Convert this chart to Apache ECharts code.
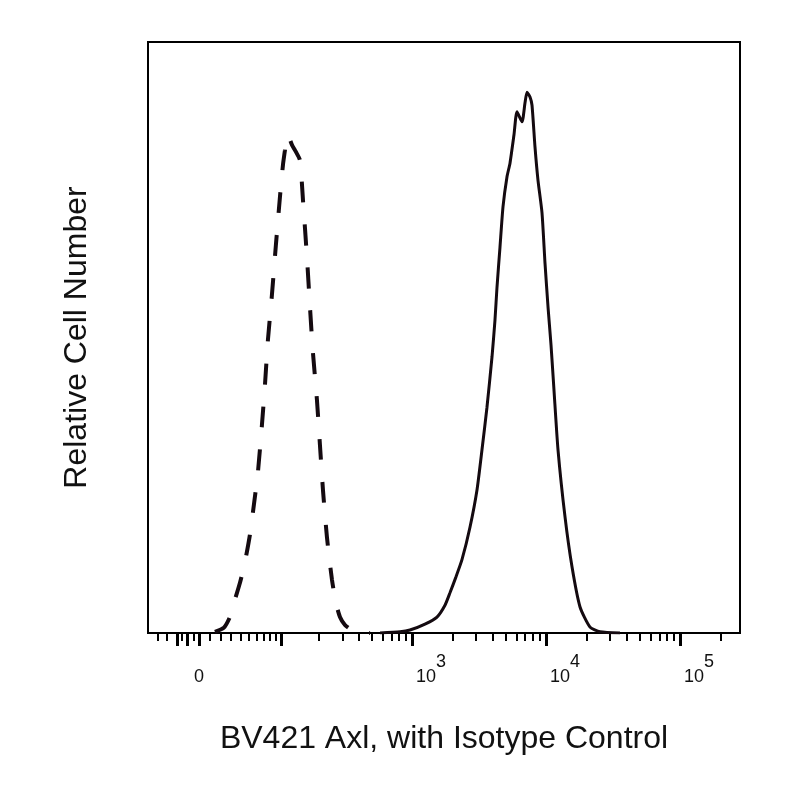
<!DOCTYPE html>
<html>
<head>
<meta charset="utf-8">
<script src="https://cdn.jsdelivr.net/npm/echarts@6.0.0/dist/echarts.min.js"></script>
<style>
  html, body { margin: 0; padding: 0; background: #fff; }
  #chart { width: 800px; height: 800px; }
</style>
</head>
<body>
<div id="chart"></div>
<script>
// BV421 intensity (x) vs relative cell number (y)
var solidX = [577, 814, 966, 1250, 1537, 1763, 1921, 2130, 2361, 2709,
    3056, 3330, 3628, 3954, 4164, 4309, 4537, 4777, 5117, 5387,
    5770, 6076, 6622, 6972, 7216, 7598, 7863, 8279, 8715, 9336,
    9829, 10350, 10900, 11470, 12290, 13870, 15630, 17940, 21300, 25290, 35660];
var solidY = [0, 0.2, 0.5, 1.5, 2.7, 4.7, 6.8, 9.5, 12.4, 17.9,
    24.2, 31.0, 38.2, 46.7, 53.0, 58.5, 65.3, 72.1, 77.2, 79.5,
    84.3, 88.2, 86.5, 89.7, 91.5, 90.7, 89.3, 82.2, 76.6, 71.1,
    62.6, 55.2, 48.7, 41.1, 31.0, 19.6, 11.2, 4.4, 1.0, 0.2, 0];

// isotype control
var isoX = [14.3, 22.8, 28.7, 32.9, 39.4, 45.1, 51.1, 56.2, 61.6, 67.3,
    71.8, 76.4, 82.9, 89.8, 97.2, 103.0, 107.0, 111.1, 115.4, 122.1,
    131.5, 141.5, 149.5, 160.7, 169.6, 179.0, 192.2, 202.7, 213.8, 229.4,
    250.5, 268.7, 288.1, 314.4, 343.0, 394.1, 485.0];
var isoY = [0.2, 0.9, 2.7, 5.1, 8.5, 12.0, 16.6, 21.7, 27.2, 35.2,
    42.0, 49.6, 57.2, 65.7, 73.8, 79.2, 81.7, 84.3, 83.9, 82.6,
    81.4, 80.0, 73.3, 63.6, 55.2, 47.4, 39.4, 31.8, 24.2, 16.2,
    9.0, 5.1, 2.7, 1.35, 0.7, 0.2, 0];

var xRange = [-51, 280000];
var majorTicks = [-20, -10, 0, 100, 1000, 10000, 100000];
var minorTicks = [-40, -30, -15, -5, 10, 20, 30, 40, 50, 60, 70, 80, 90,
    200, 300, 400, 500, 600, 700, 800, 900,
    2000, 3000, 4000, 5000, 6000, 7000, 8000, 9000,
    20000, 30000, 40000, 50000, 60000, 70000, 80000, 90000, 200000];
var labelValues = [0, 1000, 10000, 100000];
var labelTexts = ['0', '10^3', '10^4', '10^5'];

// biexponential-ish display transform (asinh)
var W = 51.5;
function biex(v) { return Math.asinh(v / W) / Math.LN10; }

function pairs(xs, ys) {
    return xs.map(function (x, i) { return [biex(x), ys[i]]; });
}

var font = '"Liberation Sans", Arial, sans-serif';
var xMin = biex(xRange[0]), xMax = biex(xRange[1]);
var labelPos = labelValues.map(biex);

var chart = echarts.init(document.getElementById('chart'));
chart.setOption({
    animation: false,
    backgroundColor: '#fff',
    grid: { left: 148, right: 60, top: 42, bottom: 167, show: true, borderColor: '#000', borderWidth: 2 },
    xAxis: [{
        type: 'value', min: xMin, max: xMax,
        name: 'BV421 Axl, with Isotype Control',
        nameLocation: 'middle', nameGap: 90,
        nameTextStyle: { fontFamily: font, fontSize: 32, color: '#111' },
        axisLine: { lineStyle: { color: '#000', width: 2 } },
        axisTick: { customValues: majorTicks.map(biex), length: 13, lineStyle: { color: '#000', width: 3 } },
        splitLine: { show: false },
        axisLabel: {
            customValues: labelPos, margin: 35,
            formatter: function (val) {
                var best = 0;
                for (var i = 1; i < labelPos.length; i++) {
                    if (Math.abs(labelPos[i] - val) < Math.abs(labelPos[best] - val)) best = i;
                }
                var t = labelTexts[best].split('^');
                if (t.length === 1) return '{z|' + t[0] + '}';
                return '{g|}{b|' + t[0] + '}{s|' + t[1] + '}';
            },
            rich: {
                z: { fontFamily: font, fontSize: 18, lineHeight: 18, color: '#111', padding: [15, 0, 0, 0], verticalAlign: 'bottom' },
                g: { width: 38, height: 18, lineHeight: 18 },
                b: { fontFamily: font, fontSize: 18, lineHeight: 18, color: '#111', verticalAlign: 'bottom' },
                s: { fontFamily: font, fontSize: 18, lineHeight: 18, color: '#111', padding: [0, 0, 15, 0], verticalAlign: 'bottom' }
            }
        }
    }, {
        type: 'value', min: xMin, max: xMax, position: 'bottom',
        axisLine: { show: false },
        axisTick: { customValues: minorTicks.map(biex), length: 8, lineStyle: { color: '#000', width: 2 } },
        axisLabel: { show: false },
        splitLine: { show: false }
    }],
    yAxis: {
        type: 'value', min: 0, max: 100,
        name: 'Relative Cell Number',
        nameLocation: 'middle', nameGap: 55, nameRotate: 90,
        nameTextStyle: { fontFamily: font, fontSize: 32, color: '#111' },
        axisLine: { show: false }, axisTick: { show: false },
        axisLabel: { show: false }, splitLine: { show: false }
    },
    series: [{
        type: 'line', name: 'Axl', xAxisIndex: 0,
        data: pairs(solidX, solidY),
        showSymbol: false, smooth: 0.2,
        lineStyle: { color: '#140a10', width: 3 }
    }, {
        type: 'line', name: 'Isotype', xAxisIndex: 0,
        data: pairs(isoX, isoY),
        showSymbol: false, smooth: 0.2,
        lineStyle: { color: '#140a10', width: 4, type: [21, 22] }
    }]
});
</script>
</body>
</html>
